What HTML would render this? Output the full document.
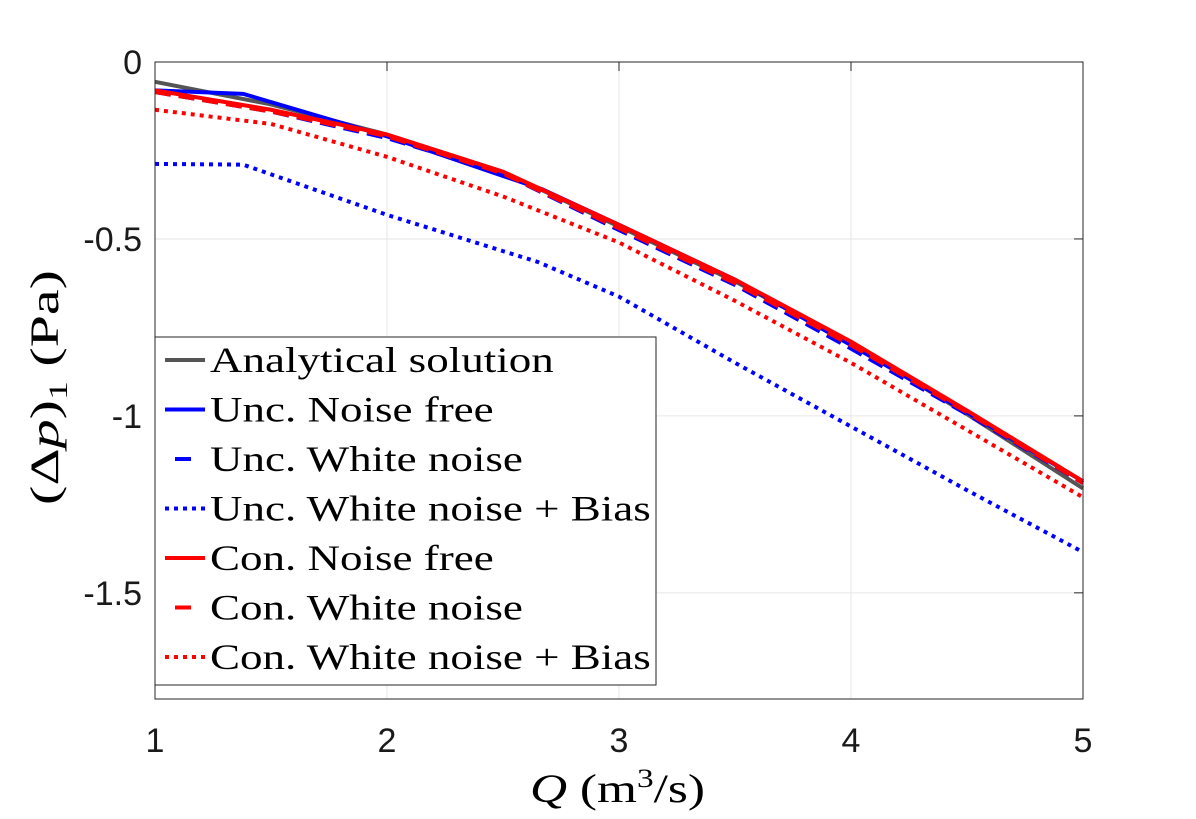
<!DOCTYPE html>
<html><head><meta charset="utf-8"><style>
body{margin:0;background:#fff;}
svg text{font-family:"Liberation Sans",sans-serif;}
.serif{font-family:"Liberation Serif",serif;}
</style></head><body>
<svg id="chart" width="1196" height="814" xmlns="http://www.w3.org/2000/svg">
<rect x="0" y="0" width="1196" height="814" fill="#fff"/>
<g id="grid"></g>
<g id="series"></g>
<rect x="155" y="62" width="928" height="637" fill="none" stroke="#262626" stroke-width="1"/>
<g id="ticks"></g>
<text class="serif" x="530" y="802" font-size="40" textLength="175" lengthAdjust="spacingAndGlyphs"><tspan font-style="italic">Q</tspan> (m<tspan font-size="26" dy="-15">3</tspan><tspan dy="15">/s)</tspan></text>
<text class="serif" transform="translate(58,505) rotate(-90)" font-size="40" textLength="235" lengthAdjust="spacingAndGlyphs">(Δ<tspan font-style="italic">p</tspan>)<tspan font-size="26" dy="9">1</tspan><tspan dy="-9"> (Pa)</tspan></text>
<g id="legend">
<rect x="155" y="337" width="501" height="348" fill="#fff" stroke="#262626" stroke-width="1"/>
</g>
</svg>
<script>
const xTicks=[1,2,3,4,5];
const yTicks=[0,-0.5,-1,-1.5];
const yTickLabels=["0","-0.5","-1","-1.5"];
const qAnalytical=[1,1.5,2,2.5,3,3.5,4,4.5,5];
const analytical=[-0.056,-0.12,-0.205,-0.31,-0.465,-0.62,-0.795,-0.995,-1.205];
const qUncFree=[1,1.38,2,2.67,3,3.5,4,4.5,5];
const uncFree=[-0.08,-0.09,-0.21,-0.36,-0.46,-0.615,-0.80,-0.99,-1.185];
const qStd=[1,1.5,2,2.5,3,3.5,4,4.5,5];
const uncWhite=[-0.085,-0.14,-0.215,-0.315,-0.475,-0.63,-0.81,-0.995,-1.19];
const uncBias=[-0.288,-0.29,-0.432,-0.565,-0.663,-0.85,-1.03,-1.21,-1.385];
const qUncBias=[1,1.38,2,2.65,3,3.5,4,4.5,5];
const conFree=[-0.08,-0.135,-0.205,-0.31,-0.46,-0.615,-0.79,-0.985,-1.185];
const conWhite=[-0.085,-0.14,-0.21,-0.315,-0.47,-0.625,-0.80,-0.99,-1.19];
const conBias=[-0.135,-0.175,-0.268,-0.38,-0.51,-0.675,-0.85,-1.04,-1.23];
const legendLabels=["Analytical solution","Unc. Noise free","Unc. White noise","Unc. White noise + Bias","Con. Noise free","Con. White noise","Con. White noise + Bias"];
const NS="http://www.w3.org/2000/svg";
const X0=155,X1=1083,Y0=62,Y1=699,YMIN=-1.8,YMAX=0;
function sx(q){return X0+(q-1)/4*(X1-X0);}
function sy(v){return Y0+(YMAX-v)/(YMAX-YMIN)*(Y1-Y0);}
const grid=document.getElementById('grid'),ticks=document.getElementById('ticks');
xTicks.forEach(t=>{
 const l=document.createElementNS(NS,'line');
 
 
 l.setAttribute('x1',sx(t));l.setAttribute('x2',sx(t));l.setAttribute('y1',Y0);l.setAttribute('y2',Y1);
 l.setAttribute('stroke','#e6e6e6');grid.appendChild(l);
 const tm=document.createElementNS(NS,'line');
 
 
 tm.setAttribute('x1',sx(t));tm.setAttribute('x2',sx(t));tm.setAttribute('y1',Y0);tm.setAttribute('y2',Y0+9);
 tm.setAttribute('stroke','#262626');grid.appendChild(tm);
 const tx=document.createElementNS(NS,'text');
 
 
 tx.setAttribute('x',sx(t));tx.setAttribute('y',752);tx.setAttribute('text-anchor','middle');tx.setAttribute('font-size','34');tx.setAttribute('fill','#1a1a1a');
 tx.textContent=t;ticks.appendChild(tx);
});
yTicks.forEach((t,i)=>{
 const l=document.createElementNS(NS,'line');
 
 
 l.setAttribute('x1',X0);l.setAttribute('x2',X1);l.setAttribute('y1',sy(t));l.setAttribute('y2',sy(t));
 l.setAttribute('stroke','#e6e6e6');grid.appendChild(l);
 const tm=document.createElementNS(NS,'line');
 
 
 tm.setAttribute('x1',X1-9);tm.setAttribute('x2',X1);tm.setAttribute('y1',sy(t));tm.setAttribute('y2',sy(t));
 tm.setAttribute('stroke','#262626');grid.appendChild(tm);
 const tx=document.createElementNS(NS,'text');
 
 
 tx.setAttribute('x',142);tx.setAttribute('y',sy(t)+12);tx.setAttribute('text-anchor','end');tx.setAttribute('font-size','34');tx.setAttribute('fill','#1a1a1a');
 tx.textContent=yTickLabels[i];ticks.appendChild(tx);
});
const styles=[
 {name:'analytical-line',q:qAnalytical,v:analytical,c:'#555',d:''},
 {name:'unc-noise-free-line',q:qUncFree,v:uncFree,c:'#0000ff',d:''},
 {name:'unc-white-noise-line',q:qStd,v:uncWhite,c:'#0000ff',d:'16 8'},
 {name:'unc-bias-line',q:qUncBias,v:uncBias,c:'#0000ff',d:'4 5'},
 {name:'con-noise-free-line',q:qStd,v:conFree,c:'#ff0000',d:''},
 {name:'con-white-noise-line',q:qStd,v:conWhite,c:'#ff0000',d:'16 8'},
 {name:'con-bias-line',q:qStd,v:conBias,c:'#ff0000',d:'4 5'}
];
const sg=document.getElementById('series');
styles.forEach(s=>{
 const p=document.createElementNS(NS,'polyline');
 
 
 p.setAttribute('points',s.q.map((q,i)=>sx(q)+','+sy(s.v[i])).join(' '));
 p.setAttribute('fill','none');p.setAttribute('stroke',s.c);p.setAttribute('stroke-width','4');
 if(s.d)p.setAttribute('stroke-dasharray',s.d);
 sg.appendChild(p);
});
const lg=document.getElementById('legend');
legendLabels.forEach((lab,i)=>{
 const y=360+i*49.5;const s=styles[i];
 const l=document.createElementNS(NS,'line');
 
 
 l.setAttribute('x1',165);l.setAttribute('x2',205);l.setAttribute('y1',y);l.setAttribute('y2',y);
 l.setAttribute('stroke',s.c);l.setAttribute('stroke-width','4');
 if(s.d==='16 8')l.setAttribute('stroke-dasharray','0 10 16 20');
 else if(s.d)l.setAttribute('stroke-dasharray',s.d);
 lg.appendChild(l);
 const t=document.createElementNS(NS,'text');
 
 
 t.setAttribute('class','serif');
 t.setAttribute('x',210);t.setAttribute('y',y+12);t.setAttribute('font-size','36');
 t.textContent=lab;lg.appendChild(t);
 const w=t.getComputedTextLength();
 t.setAttribute('textLength',w*1.25);
 t.setAttribute('lengthAdjust','spacingAndGlyphs');
});
</script>
</body></html>
